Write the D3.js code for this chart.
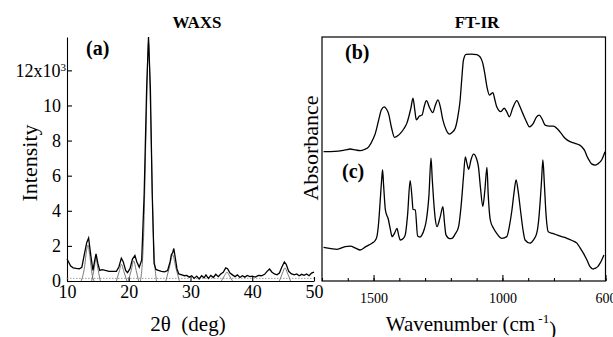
<!DOCTYPE html>
<html>
<head>
<meta charset="utf-8">
<script src="https://cdn.jsdelivr.net/npm/d3@7"></script>
<style>
  body { margin: 0; background: #fff; }
  .axis path, .axis line { stroke: #000; stroke-width: 1.1; }
  .line { fill: none; stroke: #000; stroke-width: 1.3; }
  .fit { fill: none; stroke: #6a6a6a; stroke-width: 0.9; }
</style>
</head>
<body>
<svg width="613" height="337"></svg>
<script>
// WAXS (a): measured pattern, 2theta (deg) vs intensity (x10^3 counts)
const waxsMeasured = [
  [10.0, 1.25], [10.3, 1.05], [10.6, 0.85], [11.0, 0.75], [11.5, 0.72], [12.0, 0.70],
  [12.4, 0.78], [12.8, 1.5], [13.2, 2.2], [13.5, 2.45], [13.8, 1.6], [14.2, 0.6],
  [14.5, 1.2], [14.7, 1.55], [15.0, 1.0], [15.3, 0.6], [15.7, 0.65], [16.2, 0.6],
  [16.8, 0.55], [17.4, 0.55], [18.0, 0.55], [18.4, 0.8], [18.8, 1.3], [19.1, 1.1],
  [19.5, 0.6], [19.8, 0.48], [20.2, 0.7], [20.6, 1.25], [21.0, 1.45], [21.3, 1.1],
  [21.7, 0.78], [22.1, 1.2], [22.5, 5.0], [22.9, 11.0], [23.2, 13.9], [23.5, 11.0],
  [23.8, 5.0], [24.1, 1.0], [24.4, 0.66], [24.8, 0.6], [25.3, 0.55], [25.8, 0.52],
  [26.3, 0.6], [26.7, 1.1], [26.9, 1.5], [27.1, 1.6], [27.3, 1.85], [27.5, 1.4],
  [27.8, 0.7], [28.1, 0.4], [28.6, 0.35], [29.0, 0.3], [29.4, 0.32], [29.8, 0.22],
  [30.2, 0.3], [30.6, 0.15], [31.0, 0.28], [31.4, 0.12], [31.8, 0.3], [32.2, 0.18],
  [32.5, 0.35], [32.9, 0.15], [33.3, 0.32], [33.7, 0.2], [34.1, 0.38], [34.5, 0.25],
  [34.9, 0.4], [35.3, 0.5], [35.7, 0.75], [36.0, 0.7], [36.4, 0.45], [36.8, 0.35],
  [37.2, 0.25], [37.6, 0.35], [38.0, 0.2], [38.4, 0.3], [38.8, 0.22], [39.2, 0.32],
  [39.6, 0.25], [40.0, 0.28], [40.5, 0.22], [41.0, 0.32], [41.5, 0.3], [42.0, 0.38],
  [42.4, 0.55], [42.8, 0.68], [43.2, 0.5], [43.6, 0.4], [44.0, 0.35], [44.4, 0.45],
  [44.8, 0.8], [45.2, 1.08], [45.5, 0.95], [45.9, 0.55], [46.3, 0.42], [46.8, 0.35],
  [47.2, 0.4], [47.6, 0.3], [48.0, 0.38], [48.4, 0.32], [48.8, 0.4], [49.2, 0.3],
  [49.6, 0.45], [50.0, 0.5]
];

// WAXS fitted peaks (thin lines)
const waxsPeak13 = [[12.3, 0], [12.8, 0.7], [13.2, 1.8], [13.4, 2.05], [13.7, 1.4], [14.1, 0.3], [14.4, 0]];
const waxsPeak15 = [[14.0, 0], [14.4, 0.7], [14.7, 1.3], [15.0, 0.7], [15.4, 0]];
const waxsPeak19 = [[18.0, 0], [18.5, 0.6], [18.8, 0.95], [19.2, 0.55], [19.7, 0]];
const waxsPeak21 = [[19.9, 0], [20.4, 0.6], [20.8, 1.15], [21.2, 0.6], [21.6, 0]];
const waxsPeak23 = [[21.9, 0], [22.4, 2.5], [22.8, 8.5], [23.2, 13.6], [23.6, 8.5], [24.0, 2.5], [24.5, 0]];
const waxsPeak27 = [[26.0, 0], [26.6, 0.8], [27.1, 1.5], [27.6, 0.8], [28.2, 0]];
const waxsPeak36 = [[35.0, 0], [35.5, 0.3], [35.9, 0.5], [36.3, 0.3], [36.8, 0]];
const waxsPeak45 = [[44.4, 0], [44.9, 0.45], [45.3, 0.75], [45.7, 0.45], [46.2, 0]];
const waxsFits = [waxsPeak13, waxsPeak15, waxsPeak19, waxsPeak21, waxsPeak23, waxsPeak27, waxsPeak36, waxsPeak45];
const waxsFitBaseline = 0.15;

const waxsXTicks = [10, 20, 30, 40, 50];
const waxsYTicks = [0, 2, 4, 6, 8, 10, 12];

// FT-IR spectra, wavenumber (cm-1) vs absorbance (arbitrary units)
const irSpectrumB = [
  [1694, 53.0], [1650, 53.1], [1610, 53.7], [1590, 54.1], [1570, 53.7], [1552, 53.4],
  [1535, 53.9], [1519, 55.0], [1500, 58.6], [1493, 60.5], [1480, 66.0], [1470, 70.1],
  [1459, 71.4], [1450, 70.5], [1442, 68.7], [1430, 62.7], [1419, 58.9], [1405, 59.6],
  [1396, 60.5], [1383, 62.3], [1371, 64.6], [1355, 70.9], [1347, 74.9], [1340, 70.1],
  [1334, 66.0], [1322, 67.6], [1312, 68.0], [1303, 71.7], [1295, 73.9], [1282, 70.9],
  [1270, 69.0], [1260, 72.1], [1250, 74.2], [1240, 70.9], [1231, 66.0], [1218, 61.9],
  [1205, 60.2], [1195, 60.9], [1183, 62.6], [1170, 69.3], [1164, 74.2], [1158, 82.4],
  [1151, 90.6], [1141, 92.9], [1120, 93.0], [1100, 92.8], [1093, 92.4], [1084, 91.4],
  [1076, 89.2], [1068, 84.8], [1060, 79.6], [1050, 76.2], [1043, 76.8], [1037, 77.2],
  [1030, 74.6], [1022, 71.4], [1006, 69.4], [993, 70.8], [983, 69.3], [973, 67.3],
  [960, 70.9], [944, 73.9], [933, 71.7], [921, 68.7], [908, 65.6], [895, 63.2],
  [880, 64.6], [868, 67.2], [857, 68.0], [846, 66.4], [834, 63.9], [818, 63.5],
  [802, 63.5], [783, 61.9], [770, 60.2], [757, 58.5], [735, 57.0], [718, 56.4],
  [700, 55.7], [692, 55.0], [680, 53.3], [671, 50.9], [662, 49.2], [654, 48.0],
  [640, 47.5], [630, 48.0], [615, 49.6], [602, 53.0]
];

const irSpectrumC = [
  [1694, 13.8], [1665, 13.3], [1642, 13.0], [1610, 14.1], [1590, 14.3], [1570, 13.5],
  [1552, 12.7], [1530, 14.1], [1506, 15.5], [1495, 16.4], [1487, 18.2], [1480, 24.2],
  [1474, 33.2], [1468, 42.2], [1465, 45.5], [1461, 39.3], [1454, 29.1], [1442, 25.0],
  [1435, 21.3], [1428, 18.2], [1418, 19.7], [1409, 21.6], [1403, 18.9], [1396, 16.8],
  [1385, 17.4], [1377, 18.9], [1368, 27.0], [1358, 41.1], [1350, 33.2], [1347, 29.4],
  [1338, 29.1], [1329, 18.4], [1320, 18.0], [1312, 18.9], [1303, 21.3], [1295, 25.0],
  [1285, 35.2], [1277, 50.3], [1272, 41.4], [1267, 33.2], [1260, 25.0], [1254, 22.3],
  [1241, 26.4], [1231, 30.5], [1225, 24.2], [1219, 18.9], [1205, 17.4], [1196, 17.5],
  [1183, 19.3], [1170, 22.3], [1160, 31.1], [1151, 42.7], [1144, 50.9], [1138, 48.4],
  [1131, 45.8], [1122, 49.6], [1112, 52.0], [1100, 50.0], [1093, 46.8], [1085, 38.1],
  [1076, 30.5], [1068, 37.3], [1060, 46.6], [1055, 35.2], [1047, 25.0], [1035, 21.7],
  [1022, 19.5], [1002, 17.5], [983, 18.2], [972, 23.0], [963, 29.1], [955, 36.1],
  [947, 41.4], [938, 36.1], [930, 29.1], [920, 20.9], [912, 16.8], [893, 15.5],
  [880, 16.8], [867, 19.5], [860, 24.2], [854, 31.8], [848, 41.4], [843, 49.6],
  [837, 39.3], [831, 27.7], [822, 20.2], [805, 19.5], [789, 18.9], [770, 18.2],
  [750, 17.5], [730, 16.6], [711, 15.5], [698, 13.5], [686, 11.4], [672, 8.6],
  [660, 5.9], [648, 4.9], [641, 5.2], [630, 5.9], [621, 7.3], [606, 10.7]
];

const irMinorTicks = [1700, 1600, 1500, 1400, 1300, 1200, 1100, 1000, 900, 800, 700, 600];
const irLabelTicks = [1500, 1000, 600];

const serif = 'Liberation Serif, Times New Roman, serif';
const svg = d3.select('svg').style('font-family', serif);

// ---------- left panel: WAXS ----------
const xW = d3.scaleLinear().domain([10, 50]).range([67, 314]);
const yW = d3.scaleLinear().domain([0, 13.9]).range([281, 37]);

const yAxisW = svg.append('g')
  .attr('class', 'axis')
  .attr('transform', 'translate(67,0)')
  .call(d3.axisLeft(yW).tickValues(waxsYTicks).tickSizeInner(-5).tickSizeOuter(0).tickPadding(6)
    .tickFormat(d => d === 12 ? '12x10' : d));
yAxisW.attr('font-family', serif).attr('font-size', 18);
yAxisW.selectAll('text').style('font-family', serif).style('font-size', '18px').attr('fill', '#000');
const label12 = yAxisW.selectAll('.tick').filter(d => d === 12).select('text');
label12.attr('x', -1)
  .append('tspan')
  .attr('dy', '-0.55em')
  .style('font-size', '11px')
  .text('3');

const xAxisW = svg.append('g')
  .attr('class', 'axis')
  .attr('transform', 'translate(0,281)')
  .call(d3.axisBottom(xW).tickValues(waxsXTicks).tickSizeInner(-4).tickSizeOuter(0).tickPadding(4));
xAxisW.attr('font-family', serif);
xAxisW.selectAll('text').style('font-family', serif).style('font-size', '18px').attr('fill', '#000');

svg.append('line')
  .attr('x1', xW(10)).attr('x2', xW(50))
  .attr('y1', yW(waxsFitBaseline)).attr('y2', yW(waxsFitBaseline))
  .attr('stroke', '#888').attr('stroke-width', 0.8).attr('stroke-dasharray', '1.5,1.5');

const fitLine = d3.line()
  .x(d => xW(d[0]))
  .y(d => yW(d[1]))
  .curve(d3.curveMonotoneX);

svg.selectAll('path.fit')
  .data(waxsFits)
  .enter()
  .append('path')
  .attr('class', 'fit')
  .attr('d', fitLine);

svg.append('path')
  .datum(waxsMeasured)
  .attr('class', 'line')
  .attr('d', d3.line().x(d => xW(d[0])).y(d => yW(d[1])));

// ---------- right panel: FT-IR ----------
const xI = d3.scaleLinear().domain([1700, 600]).range([322, 605.5]);
const yI = d3.scaleLinear().domain([0, 100]).range([281, 37]);

svg.append('rect')
  .attr('x', xI(1700)).attr('y', yI(100))
  .attr('width', xI(600) - xI(1700)).attr('height', yI(0) - yI(100))
  .attr('fill', 'none').attr('stroke', '#000').attr('stroke-width', 1.2);

svg.append('g')
  .attr('class', 'axis')
  .attr('transform', 'translate(0,281)')
  .call(d3.axisBottom(xI).tickValues(irMinorTicks).tickSizeInner(-3).tickSizeOuter(0).tickFormat(''))
  .select('.domain').remove();

const xAxisI = svg.append('g')
  .attr('class', 'axis')
  .attr('transform', 'translate(0,281)')
  .call(d3.axisBottom(xI).tickValues(irLabelTicks).tickSizeInner(-6).tickSizeOuter(0).tickPadding(12)
    .tickFormat(d3.format('d')));
xAxisI.attr('font-family', serif);
xAxisI.select('.domain').remove();
xAxisI.selectAll('text').style('font-family', serif).style('font-size', '14px').attr('fill', '#000');

const irLine = d3.line()
  .x(d => xI(d[0]))
  .y(d => yI(d[1]))
  .curve(d3.curveMonotoneX);

svg.append('path').datum(irSpectrumB).attr('class', 'line').attr('d', irLine);
svg.append('path').datum(irSpectrumC).attr('class', 'line').attr('d', irLine);

// ---------- titles and labels ----------
svg.append('text').attr('x', 197).attr('y', 28).attr('text-anchor', 'middle')
  .style('font-size', '17px').style('font-weight', 'bold').text('WAXS');
svg.append('text').attr('x', 477).attr('y', 28).attr('text-anchor', 'middle')
  .style('font-size', '17px').style('font-weight', 'bold').text('FT-IR');

svg.append('text').attr('x', 86).attr('y', 55)
  .style('font-size', '20px').style('font-weight', 'bold').text('(a)');
svg.append('text').attr('x', 345).attr('y', 59)
  .style('font-size', '20px').style('font-weight', 'bold').text('(b)');
svg.append('text').attr('x', 342).attr('y', 178)
  .style('font-size', '20px').style('font-weight', 'bold').text('(c)');

svg.append('text')
  .attr('transform', 'translate(37,163) rotate(-90)')
  .attr('text-anchor', 'middle')
  .style('font-size', '22px')
  .text('Intensity');
svg.append('text')
  .attr('transform', 'translate(318,148) rotate(-90)')
  .attr('text-anchor', 'middle')
  .style('font-size', '22px')
  .text('Absorbance');

svg.append('text').attr('x', 188).attr('y', 331).attr('text-anchor', 'middle')
  .style('font-size', '21px').style('white-space', 'pre').text('2\u03B8  (deg)');

const wn = svg.append('text').attr('x', 471).attr('y', 331).attr('text-anchor', 'middle')
  .style('font-size', '21px');
wn.append('tspan').text('Wavenumber (cm');
wn.append('tspan').attr('dy', '-0.6em').style('font-size', '13px').text(' -1');
wn.append('tspan').attr('dy', '0.6em').text(')');
</script>
</body>
</html>
